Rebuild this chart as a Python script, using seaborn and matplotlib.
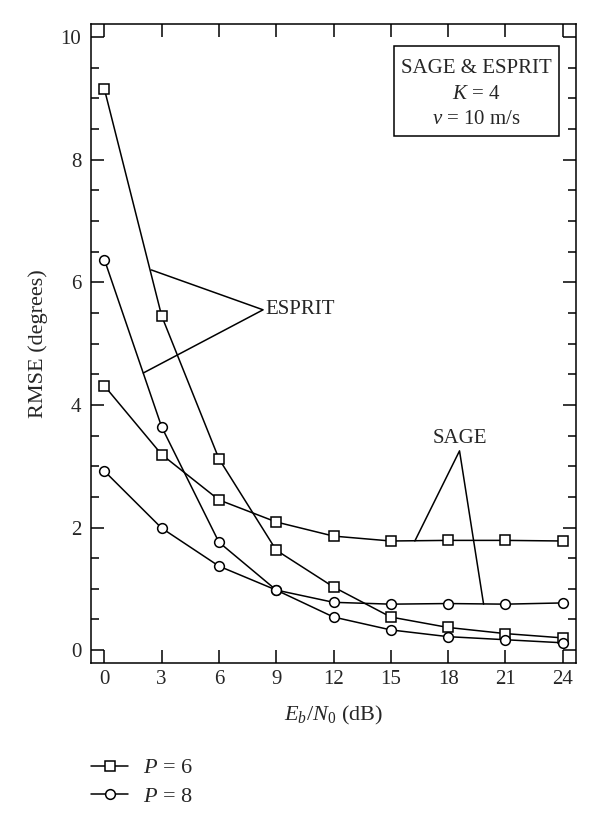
import numpy as np
import pandas as pd
import matplotlib
matplotlib.use("Agg")
import matplotlib.pyplot as plt
import seaborn as sns
from matplotlib.lines import Line2D
from matplotlib.patches import Rectangle
from matplotlib.ticker import MultipleLocator

# Datos
ebn0 = [0, 3, 6, 9, 12, 15, 18, 21, 24]
esprit_p6 = [9.15, 5.45, 3.12, 1.63, 1.03, 0.54, 0.37, 0.27, 0.20]
esprit_p8 = [6.37, 3.64, 1.76, 0.98, 0.54, 0.33, 0.22, 0.17, 0.12]
sage_p6 = [4.31, 3.19, 2.45, 2.09, 1.86, 1.78, 1.79, 1.79, 1.78]
sage_p8 = [2.92, 1.99, 1.37, 0.98, 0.78, 0.75, 0.76, 0.75, 0.77]
xticks = [0, 3, 6, 9, 12, 15, 18, 21, 24]
yticks = [0, 2, 4, 6, 8, 10]

rows = []
for metodo, p, vals in [("ESPRIT", "6", esprit_p6), ("ESPRIT", "8", esprit_p8),
                        ("SAGE", "6", sage_p6), ("SAGE", "8", sage_p8)]:
    for x, v in zip(ebn0, vals):
        rows.append({"metodo": metodo, "P": p, "EbN0": x, "RMSE": v})
df = pd.DataFrame(rows)

sns.set_style("ticks")
plt.rcParams["font.family"] = ["Liberation Serif", "DejaVu Serif"]
plt.rcParams["mathtext.fontset"] = "custom"
plt.rcParams["mathtext.rm"] = "Liberation Serif"
plt.rcParams["mathtext.it"] = "Liberation Serif:italic"

fig = plt.figure(figsize=(6, 8.26), dpi=100)
ax = fig.add_axes([0.1517, 0.1973, 0.8083, 0.7736])

sns.lineplot(data=df, x="EbN0", y="RMSE", style="P", units="metodo",
             estimator=None, markers={"6": "s", "8": "o"}, dashes=False,
             color="black", linewidth=1.1, markersize=7,
             markerfacecolor="white", markeredgecolor="black",
             markeredgewidth=1.1, legend=False, ax=ax, sort=False)

ax.set_xlim(-0.7, 24.7)
ax.set_ylim(-0.21, 10.21)
ax.set_xticks(xticks)
ax.set_yticks(yticks)
ax.yaxis.set_minor_locator(MultipleLocator(0.5))
ax.tick_params(which="both", direction="in", top=True, right=True,
               labelsize=15, width=1.1, color="black")
ax.tick_params(which="major", length=9.5, pad=5)
ax.tick_params(axis="y", which="major", pad=7)
ax.tick_params(which="minor", length=6)
for s in ax.spines.values():
    s.set_linewidth(1.1)
    s.set_color("black")

ax.set_xlabel(r"$E_b/N_0$ (dB)", fontsize=16, labelpad=11)
ax.set_ylabel("RMSE (degrees)", fontsize=16, labelpad=9)

# Anotaciones
ax.plot([2.46, 8.31, 2.04], [6.2, 5.55, 4.52], color="black", lw=1.1)
ax.text(8.45, 5.55, "ESPRIT", fontsize=15, va="center", ha="left")
ax.plot([16.26, 18.6, 19.86], [1.78, 3.25, 0.75], color="black", lw=1.1)
ax.text(18.6, 3.3, "SAGE", fontsize=15, va="bottom", ha="center")

# Recuadro de parámetros
ax.add_patch(Rectangle((0.625, 0.8247), 0.34, 0.1409, transform=ax.transAxes,
                       fc="white", ec="black", lw=1.1, zorder=5))
for txt, yy in [("SAGE & ESPRIT", 0.931), ("$K$ = 4", 0.890),
                ("$\\nu$ = 10 m/s", 0.850)]:
    ax.text(0.795, yy, txt, transform=ax.transAxes, fontsize=15,
            ha="center", va="center", zorder=6)

handles = [
    Line2D([], [], color="black", lw=1.1, marker="s", ms=7,
           mfc="white", mec="black", mew=1.1),
    Line2D([], [], color="black", lw=1.1, marker="o", ms=7,
           mfc="white", mec="black", mew=1.1),
]
fig.legend(handles, ["$P$ = 6", "$P$ = 8"], loc="upper left",
           bbox_to_anchor=(0.1517, 0.0825), frameon=False, fontsize=16,
           handlelength=1.67, handletextpad=0.68, labelspacing=0.35,
           borderpad=0, borderaxespad=0)

plt.savefig("out.png", dpi=100)
